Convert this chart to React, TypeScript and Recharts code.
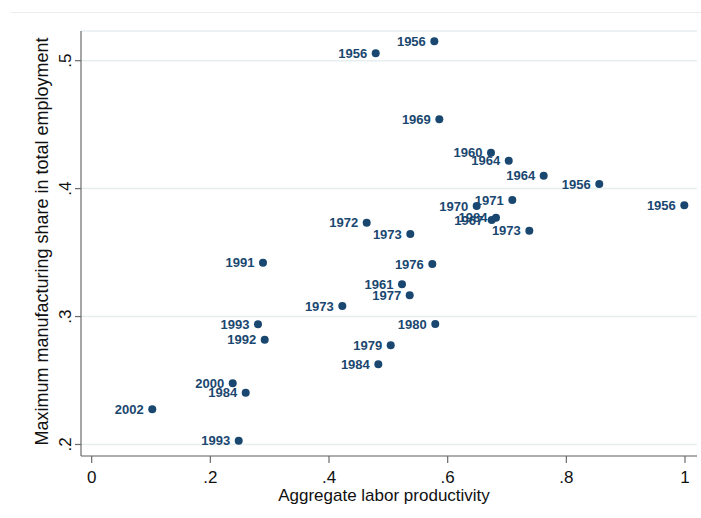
import React from 'react';
import { ScatterChart, Scatter, XAxis, YAxis, CartesianGrid } from 'recharts';

const years = [
  '1956', '1956', '1969', '1960', '1964', '1964', '1956', '1956', '1971', '1970',
  '1984', '1967', '1973', '1972', '1973', '1976', '1991', '1961', '1977', '1973',
  '1980', '1993', '1992', '1979', '1984', '2000', '1984', '2002', '1993',
];
const productivity = [
  0.5775, 0.4787, 0.5859, 0.673, 0.7029, 0.7618, 0.8555, 0.9988, 0.7089, 0.6489,
  0.6814, 0.6742, 0.7376, 0.4635, 0.537, 0.5741, 0.2887, 0.523, 0.536, 0.4224,
  0.5791, 0.2803, 0.2916, 0.504, 0.4831, 0.2377, 0.2596, 0.1021, 0.2478,
];
const share = [
  0.5152, 0.5058, 0.4542, 0.4281, 0.4218, 0.4101, 0.4036, 0.387, 0.3911, 0.3864,
  0.3773, 0.3755, 0.3671, 0.3734, 0.3645, 0.3411, 0.3421, 0.3252, 0.3166, 0.3083,
  0.2942, 0.294, 0.2819, 0.2775, 0.2627, 0.2478, 0.2405, 0.2275, 0.203,
];
const xTicks = [0, 0.2, 0.4, 0.6, 0.8, 1];
const yTicks = [0.2, 0.3, 0.4, 0.5];
const xTitle = 'Aggregate labor productivity';
const yTitle = 'Maximum manufacturing share in total employment';

const data = years.map((year, i) => ({ year, x: productivity[i], y: share[i] }));

const NAVY = '#1a476f';
const FONT = '"Liberation Sans", Arial, sans-serif';
const AXIS = '#6a6a6a';

const fmt = (v: number) => {
  if (v === 0) return '0';
  if (v === 1) return '1';
  return String(Number(v.toFixed(1))).replace(/^0/, '');
};

const XTick = (props: any) => {
  const { x, y, payload } = props;
  return (
    <text x={x} y={y + 20} textAnchor="middle" fontFamily={FONT} fontSize={17} fill="#111">
      {fmt(payload.value)}
    </text>
  );
};

const YTick = (props: any) => {
  const { x, y, payload } = props;
  const bx = x - 4;
  return (
    <text
      x={bx}
      y={y}
      textAnchor="middle"
      fontFamily={FONT}
      fontSize={17}
      fill="#111"
      transform={`rotate(-90, ${bx}, ${y})`}
    >
      {fmt(payload.value)}
    </text>
  );
};

const renderPoint = (props: any) => {
  const { cx, cy, payload } = props;
  return (
    <g>
      <circle cx={cx} cy={cy} r={4} fill={NAVY} />
      <text
        x={cx - 8.5}
        y={cy}
        dy="0.36em"
        textAnchor="end"
        fontFamily={FONT}
        fontSize={13}
        fontWeight="bold"
        fill={NAVY}
      >
        {payload.year}
      </text>
    </g>
  );
};

const XLabel = (props: any) => {
  const vb = props.viewBox || {};
  return (
    <text
      x={vb.x + vb.width / 2 - 5}
      y={vb.y + 45}
      textAnchor="middle"
      fontFamily={FONT}
      fontSize={17}
      fill="#111"
    >
      {xTitle}
    </text>
  );
};

const YLabel = (props: any) => {
  const vb = props.viewBox || {};
  const lx = vb.x + 48;
  const ly = vb.y + vb.height / 2 - 2;
  return (
    <text
      x={lx}
      y={ly}
      textAnchor="middle"
      fontFamily={FONT}
      fontSize={18}
      fill="#111"
      transform={`rotate(-90, ${lx}, ${ly})`}
    >
      {yTitle}
    </text>
  );
};

export default function App() {
  return (
    <div style={{ position: 'absolute', left: 0, top: 0, width: 701, height: 518, background: '#fff' }}>
      <div
        style={{
          position: 'absolute',
          left: 11,
          top: 12,
          width: 690,
          height: 0,
          borderTop: '1px solid #eeeeee',
        }}
      />
      <ScatterChart width={701} height={518} margin={{ top: 31, right: 4, bottom: 0, left: 0 }}>
        <CartesianGrid horizontal vertical={false} stroke="#e6eeef" strokeWidth={1.5} />
        <XAxis
          type="number"
          dataKey="x"
          domain={[-0.018, 1.0202]}
          ticks={xTicks}
          interval={0}
          allowDataOverflow
          height={62}
          tickSize={7}
          tickMargin={0}
          stroke={AXIS}
          axisLine={{ stroke: AXIS, strokeWidth: 1.2 }}
          tickLine={{ stroke: AXIS, strokeWidth: 1.2 }}
          tick={<XTick />}
          label={<XLabel />}
        />
        <YAxis
          type="number"
          dataKey="y"
          domain={[0.191, 0.5232]}
          ticks={yTicks}
          interval={0}
          allowDataOverflow
          width={81}
          tickSize={6}
          tickMargin={0}
          stroke={AXIS}
          axisLine={{ stroke: AXIS, strokeWidth: 1.2 }}
          tickLine={{ stroke: AXIS, strokeWidth: 1.2 }}
          tick={<YTick />}
          label={<YLabel />}
        />
        <Scatter data={data} shape={renderPoint} isAnimationActive={false} />
      </ScatterChart>
    </div>
  );
}
